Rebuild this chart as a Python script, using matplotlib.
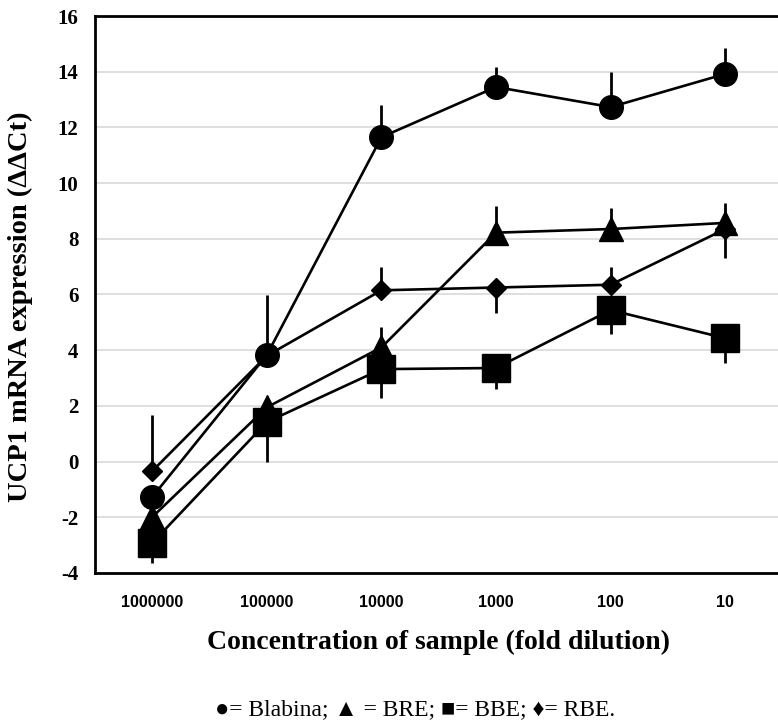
import numpy as np
import matplotlib
matplotlib.use('Agg')
import matplotlib.pyplot as plt

# dilution levels (x axis, as categories)
dilutions = ['1000000', '100000', '10000', '1000', '100', '10']

# mean ΔΔCt per extract
blabina = [-1.27, 3.83, 11.65, 13.45, 12.73, 13.92]
bre = [-1.99, 1.95, 4.10, 8.22, 8.35, 8.57]
bbe = [-2.92, 1.42, 3.32, 3.36, 5.44, 4.43]
rbe = [-0.34, 3.80, 6.15, 6.25, 6.35, 8.35]

# error bars (only the drawn side of each bar)
blabina_up = [0, 2.15, 1.15, 0.72, 1.27, 0.93]
blabina_dn = [0, 0, 0, 0, 0, 0]
bre_up = [0, 0, 0.75, 0.95, 0.75, 0.72]
bre_dn = [0, 0, 0, 0, 0, 0]
bbe_up = [0, 0, 0, 0, 0, 0]
bbe_dn = [0.72, 1.42, 1.05, 0.75, 0.85, 0.9]
rbe_up = [2.0, 0, 0.85, 0, 0.65, 0]
rbe_dn = [0, 0, 0, 0.9, 0, 1.05]

yticks = [-4, -2, 0, 2, 4, 6, 8, 10, 12, 14, 16]

serif = ['Liberation Serif', 'DejaVu Serif']

fig = plt.figure(figsize=(7.78, 7.24), dpi=100)
ax = fig.add_axes([0.1221, 0.2086, 0.8837, 0.7693])

x = np.arange(len(dilutions))

series = [
    (blabina, blabina_up, blabina_dn, 'o', 17),
    (bre, bre_up, bre_dn, '^', 17),
    (rbe, rbe_up, rbe_dn, 'D', 10.5),
    (bbe, bbe_up, bbe_dn, 's', 19.5),
]
for vals, up, dn, mk, ms in series:
    ax.errorbar(x, vals, yerr=[dn, up], fmt='none', ecolor='black',
                elinewidth=2.0, capsize=0, zorder=3)
    ax.plot(x, vals, color='black', lw=1.9, marker=mk, markersize=ms,
            markerfacecolor='black', markeredgecolor='black', zorder=4)

ax.set_xlim(-0.5, 5.5)
ax.set_ylim(-4, 16)
ax.set_yticks(yticks)
ax.set_xticks(x)
ax.set_xticklabels(dilutions, fontfamily='Liberation Sans', fontweight='bold', fontsize=11.5)
ax.set_yticklabels([str(t) for t in yticks], fontfamily=serif, fontweight='bold', fontsize=15)
ax.tick_params(axis='both', length=0)
ax.tick_params(axis='x', pad=16)
ax.tick_params(axis='y', pad=12)

ax.grid(axis='y', color='#d9d9d9', lw=1.2)
ax.set_axisbelow(True)
for s in ax.spines.values():
    s.set_linewidth(2.0)
    s.set_color('black')

fig.text(0.026, 0.577, 'UCP1 mRNA expression (ΔΔCt)', fontfamily=serif, fontweight='bold',
         fontsize=20.5, rotation=90, ha='center', va='center')
fig.text(0.563, 0.112, 'Concentration of sample (fold dilution)', fontfamily=serif,
         fontweight='bold', fontsize=20, ha='center', va='center')
fig.text(0.533, 0.020, '●= Blabina; ▲ = BRE; ■= BBE; ♦= RBE.', fontfamily=serif,
         fontsize=17, ha='center', va='center')

fig.savefig('out.png', dpi=100)
